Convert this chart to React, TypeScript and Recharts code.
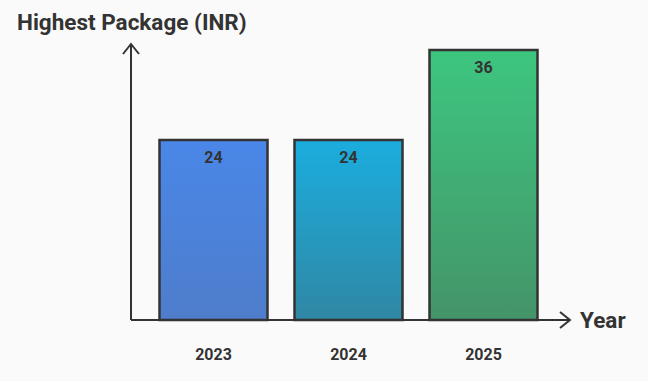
import * as React from 'react'
import { BarChart, Bar, XAxis, YAxis, Cell, LabelList } from 'recharts'

const years = ['2023', '2024', '2025']
const highestPackage = [24, 24, 36]

const gradientTops = ['#4a87e8', '#1badde', '#3dc67f']
const gradientBottoms = ['#4e7dcb', '#2f87a4', '#449469']

const INK = '#333333'

const data = years.map((year, i) => ({ year, value: highestPackage[i] }))

export default function App() {
  return (
    <div
      style={{
        position: 'absolute',
        left: 0,
        top: 0,
        width: 648,
        height: 381,
        background: '#fafafa',
        fontFamily: 'Roboto, sans-serif',
      }}
    >
      <div
        style={{
          position: 'absolute',
          left: 17,
          top: 8,
          fontSize: 22.5,
          fontWeight: 700,
          color: INK,
          lineHeight: '28px',
        }}
      >
        Highest Package (INR)
      </div>
      <div
        style={{
          position: 'absolute',
          left: 580,
          top: 306,
          fontSize: 22.5,
          fontWeight: 700,
          color: INK,
          lineHeight: '28px',
        }}
      >
        Year
      </div>
      <BarChart
        width={648}
        height={381}
        data={data}
        margin={{ top: 44, right: 78, bottom: 21, left: 130 }}
        barCategoryGap="10%"
      >
        <defs>
          {years.map((y, i) => (
            <linearGradient key={y} id={`grad-${i}`} x1="0" y1="0" x2="0" y2="1">
              <stop offset="0%" stopColor={gradientTops[i]} />
              <stop offset="100%" stopColor={gradientBottoms[i]} />
            </linearGradient>
          ))}
          <marker
            id="axis-arrow"
            viewBox="-2 -10 14 20"
            refX={10}
            refY={0}
            markerWidth={14}
            markerHeight={20}
            markerUnits="userSpaceOnUse"
            orient="auto-start-reverse"
            overflow="visible"
          >
            <path d="M0,-8 L10,0 L0,8" fill="none" stroke={INK} strokeWidth={2} />
          </marker>
        </defs>
        <XAxis
          dataKey="year"
          height={40}
          padding={{ left: 15, right: 19 }}
          tickLine={false}
          tickMargin={23}
          axisLine={{ stroke: INK, strokeWidth: 2, markerEnd: 'url(#axis-arrow)' }}
          tick={{ fill: INK, fontSize: 16, fontWeight: 700 }}
        />
        <YAxis
          width={1}
          domain={[0, 36]}
          padding={{ top: 6 }}
          tick={false}
          tickLine={false}
          axisLine={{ stroke: INK, strokeWidth: 2, markerStart: 'url(#axis-arrow)' }}
        />
        <Bar dataKey="value" stroke={INK} strokeWidth={2.5} isAnimationActive={false}>
          {data.map((d, i) => (
            <Cell key={d.year} fill={`url(#grad-${i})`} />
          ))}
          <LabelList
            dataKey="value"
            position="insideTop"
            offset={12}
            fill={INK}
            fontSize={16}
            fontWeight={700}
          />
        </Bar>
      </BarChart>
    </div>
  )
}
